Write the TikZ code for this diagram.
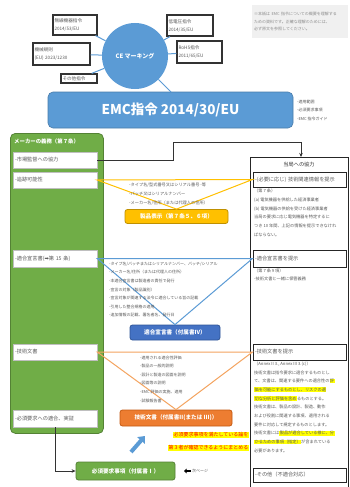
\documentclass[tikz,border=0pt]{standalone}
\usepackage{fontspec}
\setmainfont{Noto Sans CJK JP}
\newfontfamily\dejavu{DejaVu Sans}
\usetikzlibrary{arrows.meta}
\definecolor{cblue}{HTML}{5B9BD5}
\definecolor{dblue}{HTML}{4472C4}
\definecolor{dblueb}{HTML}{2F5597}
\definecolor{cgreen}{HTML}{70AD47}
\definecolor{dgreen}{HTML}{548235}
\definecolor{cgold}{HTML}{FFC000}
\definecolor{dgold}{HTML}{BF9000}
\definecolor{corange}{HTML}{ED7D31}
\definecolor{dorange}{HTML}{C55A11}
\definecolor{lorange}{HTML}{F4A460}
\definecolor{txtgray}{HTML}{595959}
\definecolor{hly}{HTML}{FFFF00}
\newcommand\hlt[1]{{\setlength{\fboxsep}{0.4pt}\colorbox{hly}{#1}}}
\tikzset{
  sbox/.style={draw=black!80, line width=1.2pt, fill=white, text=txtgray, font=\fontsize{4.6}{8}\selectfont, align=left, inner sep=1.5pt, text width=#1},
  cline/.style={cblue, line width=1pt},
  gbox/.style={draw=black!25, fill=white, text=txtgray, font=\fontsize{5.2}{6}\selectfont, minimum width=84pt, text width=80pt, align=left, inner sep=2pt},
  rbox/.style={draw=black!85, line width=1pt, fill=white, text=txtgray, font=\fontsize{5.2}{6}\selectfont, minimum width=93pt, text width=89pt, align=left, inner sep=2pt},
  small/.style={text=txtgray, font=\fontsize{4.2}{8.7}\selectfont, align=left, inner sep=0pt},
  cbox/.style={rounded corners=2.5pt, line width=0.8pt, text=white, font=\bfseries\fontsize{5.6}{6}\selectfont, inner sep=1pt},
}
\begin{document}
\begin{tikzpicture}[x=1pt,y=-1pt]
\useasboundingbox (0,0) rectangle (349,487);
\fill[white] (0,0) rectangle (349,487);

% CE marking
\node[circle, fill=cblue, minimum size=66pt, inner sep=0pt, text=white, font=\bfseries\fontsize{6}{7}\selectfont] (ce) at (135,56) {CE マーキング};
\node[sbox=41pt, minimum height=20pt] (b1) at (75,25) {無線機器指令\\2014/53/EU};
\node[sbox=54pt, minimum height=22pt] (b2) at (61.5,54) {機械規則\\(EU) 2023/1230};
\node[sbox=33pt, minimum height=9pt] (b3) at (79,78.5) {その他指令};
\node[sbox=43pt, minimum height=21pt] (b4) at (190,25.5) {低電圧指令\\2014/35/EU};
\node[sbox=42pt, minimum height=22pt] (b5) at (199.5,52) {RoHS指令\\2011/65/EU};
\foreach \b in {b1,b2,b3,b4,b5} \draw[cline] (ce) -- (\b);

% note
\node[fill=black!6, text=black!45, font=\fontsize{4}{7.5}\selectfont, align=left, minimum width=96pt, minimum height=33pt, text width=92pt, inner sep=2pt, anchor=north west] (note) at (252,5) {※本紙は EMC 指令についての概要を理解する\\ための資料です。正確な理解のためには、\\必ず原文を参照してください。};

% EMC
\node[fill=cblue, draw=cblue!80!black, line width=0.6pt, rounded corners=5pt, minimum width=245pt, minimum height=36pt, text=white, font=\bfseries\fontsize{13.5}{15}\selectfont] (emc) at (170.5,110) {EMC指令 2014/30/EU};
\coordinate (emcin) at (171,92);
\draw[cline] (ce) -- (emcin);
\node[small, font=\fontsize{4}{8.5}\selectfont, anchor=west] (emclist) at (297,110) {-適用範囲\\-必須要求事項\\-EMC 指令ガイド};

% green panel
\node[fill=cgreen, draw=dgreen, line width=0.8pt, rounded corners=5pt, minimum width=93pt, minimum height=300pt, anchor=north west] (gp) at (10,133) {};
\node[text=white, font=\bfseries\fontsize{5.4}{6}\selectfont, anchor=west, inner sep=0pt] (gpt) at (14,141.5) {メーカーの義務（第７条）};
\node[gbox, minimum height=16pt] (m1) at (55,160) {-市場監督への協力};
\node[gbox, minimum height=16pt] (m2) at (55,180) {-追跡可能性};
\node[gbox, minimum height=17pt] (m3) at (55,258.5) {-適合宣言書({\dejavu ➡}第 15 条)};
\node[gbox, minimum height=16pt] (m4) at (55,352) {-技術文書};
\node[gbox, minimum height=17pt] (m5) at (55,418.5) {-必須要求への適合、実証};

% right panel
\node[draw=black!85, line width=1.2pt, minimum width=98pt, minimum height=335pt, anchor=north west, inner sep=0pt] (rp) at (250,157) {};
\node[text=black!80, font=\fontsize{5.2}{6}\selectfont, inner sep=0pt] (rpt) at (299,164.5) {当局への協力};
\node[rbox, minimum height=15pt] (r1) at (299.5,179.5) {-(必要に応じ) 技術関連情報を提示};
\node[small, anchor=north west] (r1t) at (254,189) {（第 7 条）\\(a) 電気機器を供給した経済事業者\\(b) 電気機器の供給を受けた経済事業者\\当局の要求に応じ電気機器を特定するに\\つき 10 年間、上記の情報を提示できなけれ\\ばならない。};
\node[rbox, minimum height=17pt] (r2) at (299.5,258.5) {-適合宣言書を提示};
\node[small, anchor=north west] (r2t) at (254,268.5) {（第 7 条 9 項）\\-技術文書と一緒に保管義務};
\node[rbox, minimum height=16pt] (r3) at (299.5,352) {-技術文書を提示};
\node[small, anchor=north west] (r3t) at (254,361.5) {（Annex II 3., Annex III 3.(c)）\\技術文書は指令要求に適合するものとし\\て、文書は、関連する要件への適合性の\hlt{評}\\\hlt{価を可能にするものとし、リスクの適}\\\hlt{切な分析と評価を含め}るものとする。\\技術文書は、製品の設計、製造、動作\\および役割に関連する事項、適用される\\要件に対応して規定するものとします。\\技術文書には\hlt{製品が適合している様に、分}\\\hlt{かるための事項（指定）}が含まれている\\必要があります。};
\node[rbox, minimum height=14pt] (r4) at (299.5,475) {-その他（不適合対応）};

% black connector
\coordinate (k1) at (173,142);
\coordinate (k2) at (301,157);
\draw[black!80, line width=0.8pt, -{Stealth[length=4pt,width=3.5pt]}] (m1.east) -| (k1) -| (k2);

% product marking
\node[cbox, fill=cgold, draw=dgold, minimum width=103pt, minimum height=14pt] (p1) at (176.5,216.5) {製品表示（第７条５、６項）};
\draw[cgold, line width=1pt] (m2.east) -- (r1.west) -- (p1.north) -- cycle;
\node[small, anchor=west] (p1t) at (129,194) {-タイプ名/型式番号又はシリアル番号 -等\\-バッチ又はシリアルナンバー\\-メーカー名/住所（または代理人の住所）};

% DoC
\node[cbox, fill=dblue, draw=dblueb, minimum width=90pt, minimum height=15pt] (d1) at (175,332.5) {適合宣言書（付属書IV）};
\draw[cblue, line width=1pt] (m3.east) -- (r2.west) -- (d1.north) -- cycle;
\node[small, anchor=west, font=\fontsize{4}{8.6}\selectfont] (d1t) at (109,289.5) {-タイプ名/バッチまたはシリアルナンバー、バッチ/シリアル\\-メーカー名/住所（または代理人の住所）\\-本適合宣言書は製造者の責任で発行\\-宣言の対象（製品識別）\\-宣言対象が関連する法令に適合している旨の記載\\-引用した整合規格の適用\\-追加情報の記載、署名者名、発行日};

% Technical documentation
\node[cbox, fill=corange, draw=dorange, minimum width=112pt, minimum height=16pt] (t1) at (176,418) {技術文書（付属書II(または III)）};
\draw[lorange, line width=1pt] (m4.east) -- (r3.west) -- (t1.north) -- cycle;
\node[small, anchor=west, font=\fontsize{4}{8.6}\selectfont] (t1t) at (140,379) {-適用される適合性評価\\-製品の一般的説明\\-設計と製造の図面を説明\\-図面等の説明\\-EMC 評価の実施、適用\\-試験報告書};

% red note
\node[text=red, font=\fontsize{5}{13}\selectfont, align=right, inner sep=0pt, anchor=north east] (rn) at (249,432) {\hlt{必須要求事項を満たしている論を}\\\hlt{第３者が確認できるようにまとめる}};
\coordinate (a1) at (131,452);
\coordinate (a2) at (145,436);
\draw[cblue, line width=4pt, -{Triangle[length=6pt,width=10pt]}] (a1) -- (a2);

% essential requirements
\node[cbox, fill=cgreen, draw=dgreen, minimum width=99pt, minimum height=18pt] (g1) at (125.5,471) {必須要求事項（付属書Ⅰ）};
\draw[black!80, line width=0.8pt, -{Stealth[length=4pt,width=3.5pt]}] (m5.south) |- (g1.west);
\coordinate (n1) at (191,471);
\coordinate (n2) at (184,471);
\draw[black, line width=1.6pt, -{Triangle[length=2.5pt,width=4.5pt]}] (n1) -- (n2);
\node[small, anchor=west, font=\fontsize{4}{5}\selectfont] (nt) at (192,471) {次ページ};
\end{tikzpicture}
\end{document}
